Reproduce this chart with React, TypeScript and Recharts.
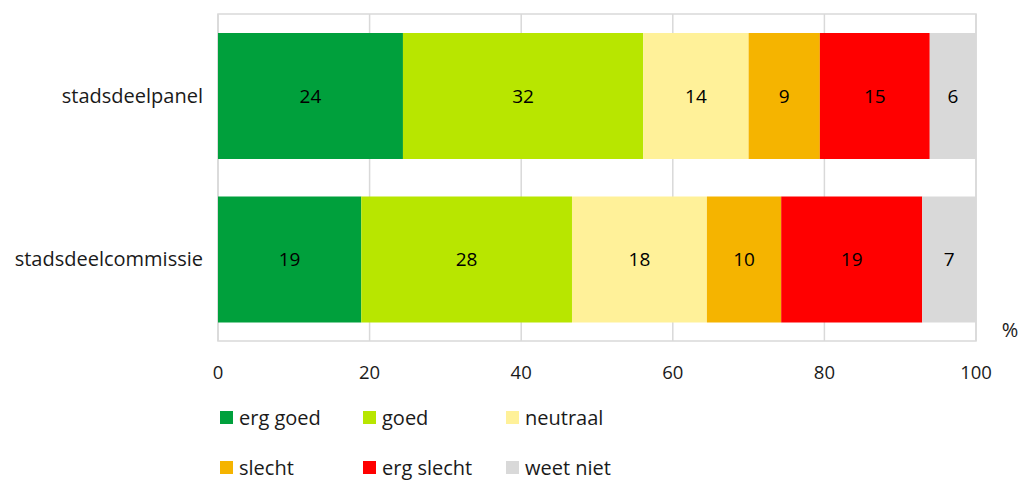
import React from 'react';
import { BarChart, Bar, XAxis, YAxis, CartesianGrid, LabelList, Legend, ReferenceArea, Label } from 'recharts';

const groups = ['stadsdeelpanel', 'stadsdeelcommissie'];
const ergGoed = [24.4, 18.9];
const goed = [31.7, 27.8];
const neutraal = [13.9, 17.8];
const slecht = [9.4, 9.8];
const ergSlecht = [14.5, 18.6];
const weetNiet = [6.1, 7.1];
const xTicks = [0, 20, 40, 60, 80, 100];

const series = [
  { key: 'ergGoed', name: 'erg goed', color: '#00A03C', values: ergGoed },
  { key: 'goed', name: 'goed', color: '#B8E600', values: goed },
  { key: 'neutraal', name: 'neutraal', color: '#FFF199', values: neutraal },
  { key: 'slecht', name: 'slecht', color: '#F5B400', values: slecht },
  { key: 'ergSlecht', name: 'erg slecht', color: '#FF0000', values: ergSlecht },
  { key: 'weetNiet', name: 'weet niet', color: '#D9D9D9', values: weetNiet },
];

const data = groups.map((g, i) => {
  const row: Record<string, string | number> = { group: g };
  series.forEach(s => { row[s.key] = s.values[i]; });
  return row;
});

const FONT = '"Open Sans", Lato, sans-serif';

// two rows of three, like the original
function LegendBlock() {
  return (
    <div style={{ position: 'relative', width: 600, height: 80, fontFamily: FONT, fontSize: 20, color: '#1a1a1a' }}>
      {series.map((s, i) => (
        <div
          key={s.key}
          style={{
            position: 'absolute',
            left: (i % 3) * 143,
            top: Math.floor(i / 3) * 50,
            display: 'flex',
            alignItems: 'center',
            whiteSpace: 'nowrap',
          }}
        >
          <span style={{ display: 'inline-block', width: 13, height: 13, background: s.color, marginRight: 6 }} />
          <span>{s.name}</span>
        </div>
      ))}
    </div>
  );
}

export default function App() {
  return (
    <div style={{ position: 'absolute', left: 0, top: 0 }}>
      <BarChart
        width={1021}
        height={480}
        data={data}
        layout="vertical"
        margin={{ top: 14, right: 45, bottom: 99, left: 8 }}
      >
        <CartesianGrid horizontal={false} stroke="#d9d9d9" strokeWidth={1.5} />
        <ReferenceArea x1={0} x2={100} fill="none" stroke="#d9d9d9" strokeWidth={1.5} ifOverflow="visible" />
        <XAxis
          type="number"
          domain={[0, 100]}
          ticks={xTicks}
          axisLine={false}
          tickLine={false}
          tickMargin={19}
          height={40}
          tick={{ fontSize: 18.5, fill: '#1a1a1a', fontFamily: FONT }}
        >
          <Label
            content={({ viewBox }: any) => (
              <text x={viewBox.x + viewBox.width + 34} y={viewBox.y - 4} textAnchor="middle" fontSize={20} fill="#1a1a1a" fontFamily={FONT}>%</text>
            )}
          />
        </XAxis>
        <YAxis
          type="category"
          dataKey="group"
          width={210}
          axisLine={false}
          tickLine={false}
          tickMargin={9}
          tick={{ fontSize: 20, fill: '#1a1a1a', fontFamily: FONT }}
        />
        {series.map(s => (
          <Bar key={s.key} dataKey={s.key} name={s.name} stackId="a" fill={s.color} barSize={126} isAnimationActive={false}>
            <LabelList
              dataKey={s.key}
              position="center"
              formatter={(v: any) => Math.round(Number(v))}
              style={{ fontSize: 19, fill: '#000', fontFamily: FONT }}
            />
          </Bar>
        ))}
        <Legend
          layout="horizontal"
          verticalAlign="middle"
          align="center"
          wrapperStyle={{ left: 220, top: 404, width: 600 }}
          content={() => <LegendBlock />}
        />
      </BarChart>
    </div>
  );
}
